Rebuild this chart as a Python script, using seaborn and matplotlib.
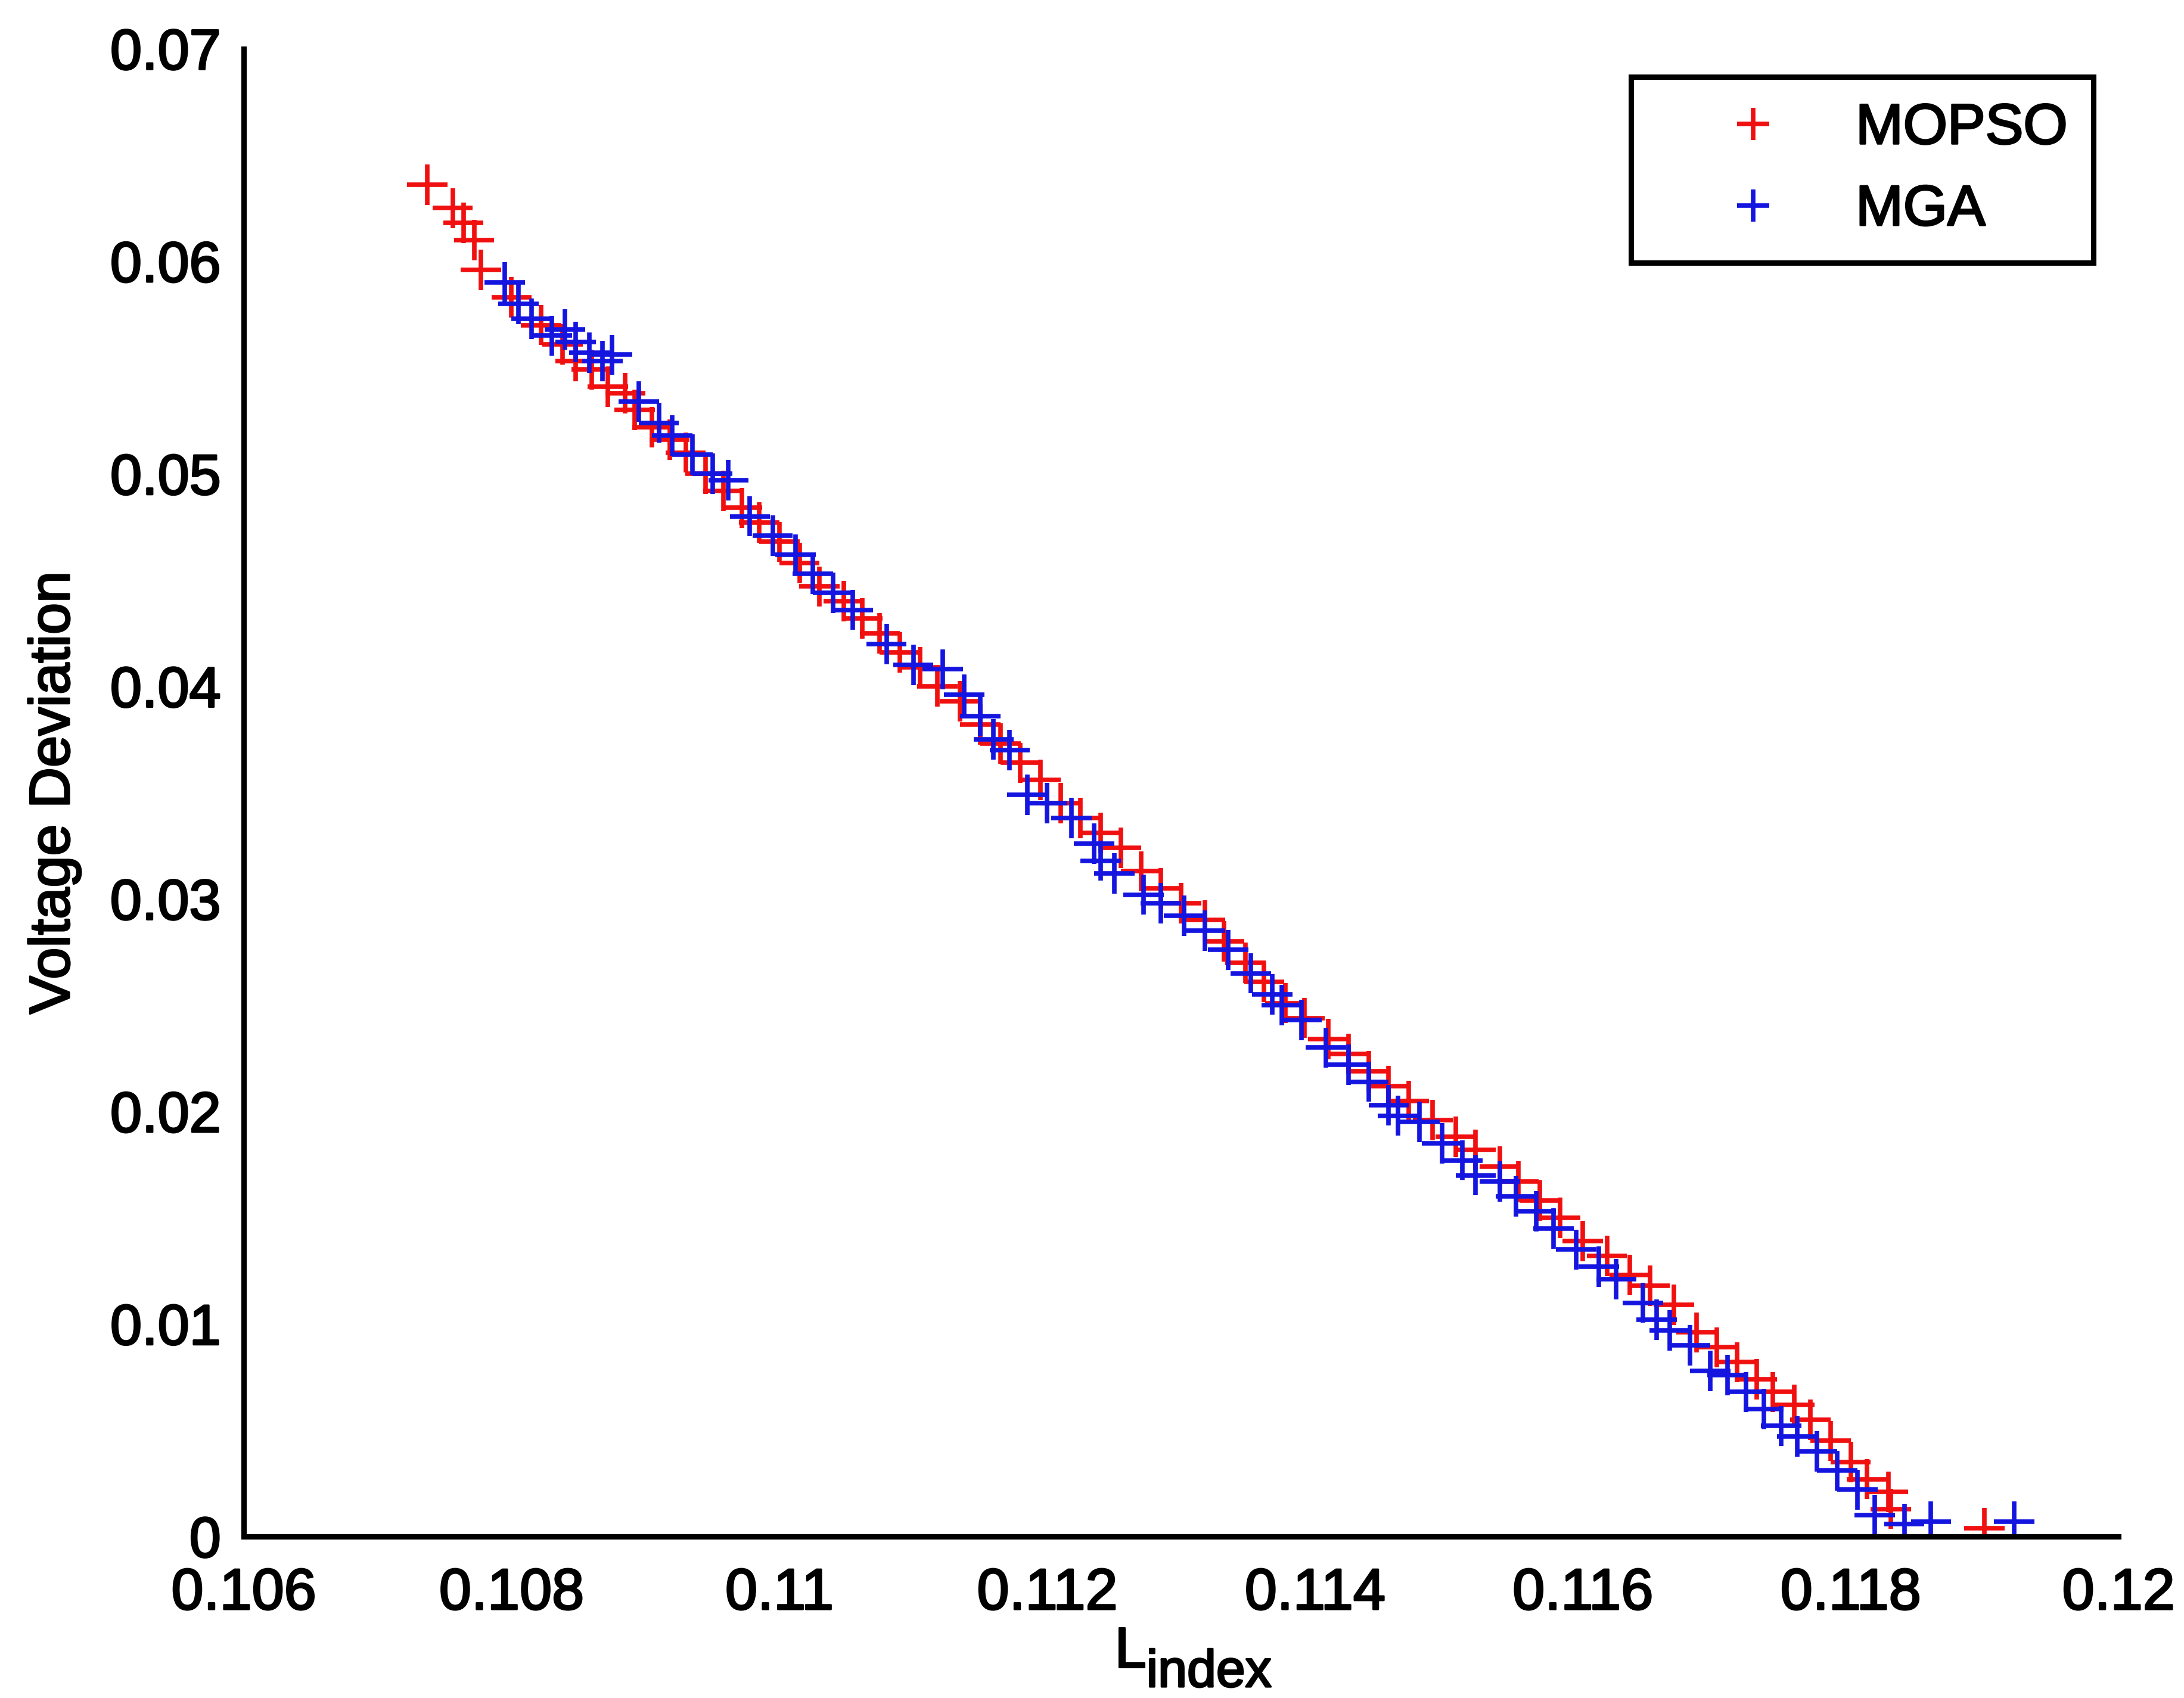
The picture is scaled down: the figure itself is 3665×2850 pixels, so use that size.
import pandas as pd
import seaborn as sns
import matplotlib.pyplot as plt
import matplotlib.patheffects as pe

# Pareto front points
mopso_lindex = [0.10737, 0.10756, 0.10764, 0.10772, 0.10777, 0.10800, 0.10822, 0.10838, 0.10848, 0.10860,
                0.10872, 0.10885, 0.10892, 0.10905, 0.10918, 0.10930, 0.10945, 0.10958, 0.10972, 0.10985,
                0.11000, 0.11015, 0.11030, 0.11048, 0.11062, 0.11075, 0.11090, 0.11105, 0.11118, 0.11135,
                0.11150, 0.11165, 0.11180, 0.11195, 0.11210, 0.11225, 0.11240, 0.11255, 0.11270, 0.11285,
                0.11300, 0.11318, 0.11332, 0.11348, 0.11362, 0.11378, 0.11392, 0.11410, 0.11425, 0.11440,
                0.11455, 0.11470, 0.11488, 0.11505, 0.11520, 0.11538, 0.11552, 0.11568, 0.11583, 0.11600,
                0.11618, 0.11635, 0.11650, 0.11668, 0.11685, 0.11700, 0.11715, 0.11730, 0.11742, 0.11758,
                0.11770, 0.11785, 0.11800, 0.11812, 0.11828, 0.11830, 0.11900]
mopso_vdev = [0.0636, 0.0625, 0.0618, 0.0610, 0.0596, 0.0583, 0.0570, 0.0561, 0.0553, 0.0549,
              0.0541, 0.0538, 0.0530, 0.0522, 0.0516, 0.0510, 0.0500, 0.0492, 0.0484, 0.0477,
              0.0468, 0.0458, 0.0447, 0.0440, 0.0432, 0.0425, 0.0416, 0.0409, 0.0400, 0.0393,
              0.0382, 0.0373, 0.0364, 0.0356, 0.0345, 0.0338, 0.0331, 0.0324, 0.0313, 0.0305,
              0.0298, 0.0290, 0.0280, 0.0270, 0.0261, 0.0251, 0.0244, 0.0234, 0.0227, 0.0219,
              0.0212, 0.0205, 0.0196, 0.0188, 0.0182, 0.0174, 0.0167, 0.0158, 0.0150, 0.0139,
              0.0132, 0.0123, 0.0118, 0.0109, 0.0096, 0.0089, 0.0082, 0.0074, 0.0068, 0.0062,
              0.0055, 0.0045, 0.0035, 0.0027, 0.0021, 0.0013, 0.0004]

mga_lindex = [0.10795, 0.10805, 0.10815, 0.10830, 0.10840, 0.10848, 0.10858, 0.10868, 0.10875, 0.10895,
              0.10910, 0.10920, 0.10935, 0.10950, 0.10962, 0.10978, 0.10995, 0.11012, 0.11025, 0.11040,
              0.11055, 0.11080, 0.11100, 0.11122, 0.11138, 0.11150, 0.11160, 0.11172, 0.11185, 0.11200,
              0.11218, 0.11235, 0.11240, 0.11250, 0.11272, 0.11285, 0.11302, 0.11318, 0.11335, 0.11352,
              0.11368, 0.11375, 0.11390, 0.11408, 0.11425, 0.11440, 0.11455, 0.11462, 0.11478, 0.11495,
              0.11510, 0.11520, 0.11538, 0.11550, 0.11565, 0.11578, 0.11595, 0.11612, 0.11625, 0.11645,
              0.11655, 0.11665, 0.11680, 0.11695, 0.11708, 0.11722, 0.11735, 0.11748, 0.11760, 0.11775,
              0.11790, 0.11805, 0.11818, 0.11840, 0.11860, 0.11922]
mga_vdev = [0.0590, 0.0580, 0.0573, 0.0565, 0.0568, 0.0562, 0.0557, 0.0553, 0.0556, 0.0534,
            0.0524, 0.0518, 0.0509, 0.0500, 0.0497, 0.0480, 0.0471, 0.0462, 0.0453, 0.0444,
            0.0436, 0.0420, 0.0410, 0.0408, 0.0396, 0.0386, 0.0375, 0.0370, 0.0349, 0.0345,
            0.0338, 0.0326, 0.0318, 0.0312, 0.0302, 0.0298, 0.0292, 0.0285, 0.0276, 0.0265,
            0.0255, 0.0250, 0.0243, 0.0230, 0.0222, 0.0214, 0.0203, 0.0198, 0.0195, 0.0185,
            0.0177, 0.0170, 0.0167, 0.0160, 0.0153, 0.0145, 0.0135, 0.0127, 0.0121, 0.0110,
            0.0102, 0.0097, 0.0090, 0.0078, 0.0076, 0.0068, 0.0060, 0.0052, 0.0047, 0.0040,
            0.0031, 0.0022, 0.0010, 0.0006, 0.0007, 0.0007]

x_ticks = [0.106, 0.108, 0.11, 0.112, 0.114, 0.116, 0.118, 0.12]
x_ticklabels = ['0.106', '0.108', '0.11', '0.112', '0.114', '0.116', '0.118', '0.12']
y_ticks = [0, 0.01, 0.02, 0.03, 0.04, 0.05, 0.06, 0.07]
y_ticklabels = ['0', '0.01', '0.02', '0.03', '0.04', '0.05', '0.06', '0.07']

df = pd.concat([
    pd.DataFrame({'L': mopso_lindex, 'VD': mopso_vdev, 'method': 'MOPSO'}),
    pd.DataFrame({'L': mga_lindex, 'VD': mga_vdev, 'method': 'MGA'}),
], ignore_index=True)

sns.set_theme(style='white')
plt.rcParams['font.family'] = ['Liberation Sans', 'DejaVu Sans']
plt.rcParams['text.color'] = 'black'
plt.rcParams['axes.labelcolor'] = 'black'
fs = 27.5
bold_fx = [pe.withStroke(linewidth=0.9, foreground='black')]

fig = plt.figure(figsize=(14.66, 11.4), dpi=250)
ax = fig.add_axes([0.1116, 0.0951, 0.8584, 0.8762])

sns.scatterplot(data=df, x='L', y='VD', hue='method',
                palette={'MOPSO': '#f01010', 'MGA': '#1515e0'},
                marker='+', s=380, linewidth=2.2, ax=ax)

ax.set_xlim(0.106, 0.12)
ax.set_ylim(0, 0.07)
ax.set_xticks(x_ticks)
ax.set_xticklabels(x_ticklabels, fontsize=fs + 0.5)
ax.set_yticks(y_ticks)
ax.set_yticklabels(y_ticklabels, fontsize=fs)
ax.tick_params(direction='in', length=12, width=2.5, colors='black', pad=11)
ax.tick_params(axis='x', pad=15)
for lbl in ax.get_xticklabels() + ax.get_yticklabels():
    lbl.set_path_effects(bold_fx)

sns.despine(ax=ax)
for side in ['left', 'bottom']:
    ax.spines[side].set_linewidth(2.6)
    ax.spines[side].set_color('black')

ax.set_ylabel('Voltage Deviation', fontsize=fs, labelpad=14, path_effects=bold_fx)
ax.set_xlabel('L', fontsize=fs, path_effects=bold_fx)
ax.xaxis.set_label_coords(0.473, -0.060)
ax.annotate('index', xy=(1, 0), xycoords=ax.xaxis.label, xytext=(0, -9),
            textcoords='offset points', fontsize=fs * 0.92, ha='left', va='bottom',
            path_effects=bold_fx)

sns.move_legend(ax, 'upper right', bbox_to_anchor=(0.9866, 0.981), title=None,
                fontsize=fs, frameon=True, fancybox=False, edgecolor='black', framealpha=1,
                borderaxespad=0, handletextpad=0.1, borderpad=0.45, labelspacing=0.5,
                handlelength=3.4, markerscale=0.8)
leg = ax.get_legend()
leg.get_frame().set_linewidth(2.6)
leg.get_frame().set_edgecolor('black')
for t in leg.get_texts():
    t.set_path_effects(bold_fx)

fig.savefig('out.png', dpi=250, facecolor='white')
